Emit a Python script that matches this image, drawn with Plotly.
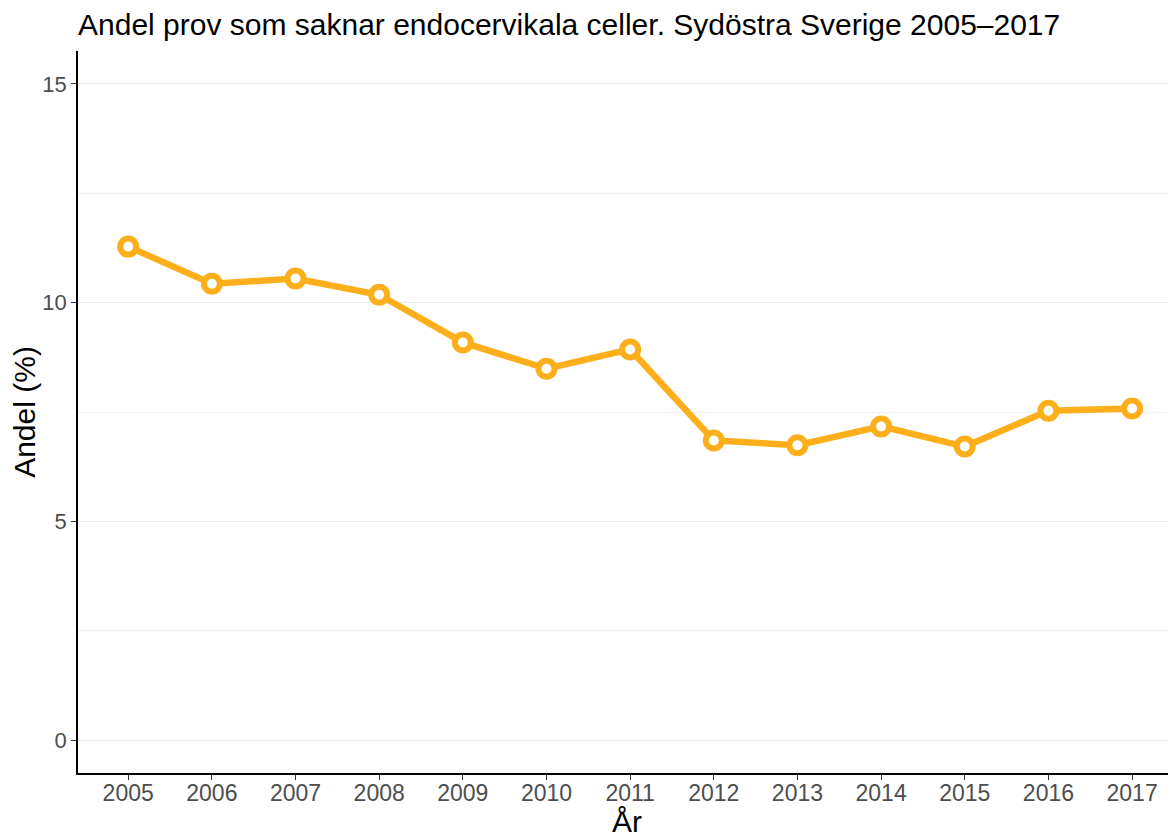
import plotly.graph_objects as go

years = [2005, 2006, 2007, 2008, 2009, 2010, 2011, 2012, 2013, 2014, 2015, 2016, 2017]
andel = [11.28, 10.43, 10.55, 10.18, 9.09, 8.49, 8.93, 6.85, 6.74, 7.17, 6.71, 7.53, 7.58]

y_ticks = [0, 5, 10, 15]

orange = "#FDAF1B"
font = "Liberation Sans, Arial, sans-serif"

# page has an 8px body margin, so the figure is offset by 8px
W, H = 1168, 825
M_T, M_B = 43, 60
plot_h = H - M_T - M_B

fig = go.Figure()
fig.add_trace(go.Scatter(
    x=years, y=andel, mode="lines+markers",
    line=dict(color=orange, width=6.5),
    marker=dict(size=16, color="white", line=dict(color=orange, width=6)),
    showlegend=False,
))

fig.update_layout(
    width=W, height=H,
    paper_bgcolor="white", plot_bgcolor="white",
    margin=dict(l=70, r=0, t=M_T, b=M_B),
    font=dict(family=font, color="#4D4D4D"),
    title=dict(
        text="Andel prov som saknar endocervikala celler. Sydöstra Sverige 2005\u20132017",
        x=70 / W, xanchor="left", xref="container",
        y=1 - 16 / H, yanchor="middle", yref="container",
        font=dict(size=30, color="black", family=font),
    ),
    xaxis=dict(
        range=[2004.4, 2017.525],
        tickvals=years, ticktext=[str(y) for y in years],
        showgrid=False, zeroline=False,
        showline=True, linecolor="black", linewidth=1.5,
        ticks="outside", ticklen=5, tickcolor="#333333", tickwidth=1.2,
        tickfont=dict(size=23, color="#4D4D4D"),
        ticklabelstandoff=-6,
        automargin=False,
    ),
    yaxis=dict(
        range=[-0.75, 15.75],
        tickvals=y_ticks,
        showgrid=True, gridcolor="#EBEBEB", gridwidth=1.2,
        minor=dict(tickvals=[2.5, 7.5, 12.5], showgrid=True, gridcolor="#F0F0F0", gridwidth=1),
        zeroline=False,
        showline=True, linecolor="black", linewidth=1.5,
        ticks="outside", ticklen=5, tickcolor="#333333", tickwidth=1.2,
        tickfont=dict(size=22, color="#4D4D4D"),
        automargin=False,
        title=dict(text="Andel (%)", font=dict(size=30, color="black"), standoff=8),
    ),
)

# x axis title sits low, partly cut by the bottom edge as in the original
fig.add_annotation(
    text="År", xref="paper", yref="paper", x=0.5, y=-(814 - (H - M_B)) / plot_h,
    xanchor="center", yanchor="middle", showarrow=False,
    font=dict(size=30, color="black", family=font),
)

fig.write_html("out.html")
